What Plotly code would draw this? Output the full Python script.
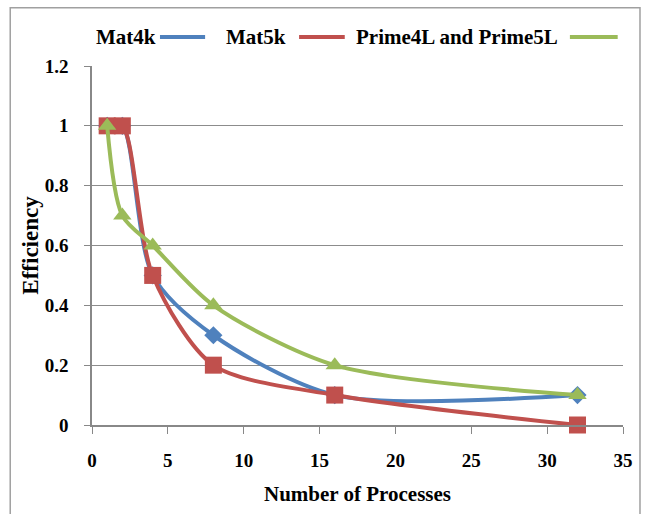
import plotly.graph_objects as go

# Processes vs. efficiency for the three workloads
processes = [1, 2, 4, 8, 16, 32]
mat4k = [1.0, 1.0, 0.5, 0.3, 0.1, 0.1]
mat5k = [1.0, 1.0, 0.5, 0.2, 0.1, 0.0]
prime = [1.0, 0.7, 0.6, 0.4, 0.2, 0.1]

series_names = ["Mat4k", "Mat5k", "Prime4L and Prime5L"]
colors = ["#4F81BD", "#C0504D", "#9BBB59"]
symbols = ["diamond", "square", "triangle-up"]
sizes = [14, 17, 16]

x_ticks = [0, 5, 10, 15, 20, 25, 30, 35]
y_ticks = [0, 0.2, 0.4, 0.6, 0.8, 1.0, 1.2]
y_tick_labels = ["0", "0.2", "0.4", "0.6", "0.8", "1", "1.2"]

FONT = "Liberation Serif"

fig = go.Figure()
for name, ys, c, sym, sz in zip(series_names, [mat4k, mat5k, prime], colors, symbols, sizes):
    fig.add_trace(go.Scatter(
        x=processes, y=ys, name=name, mode="lines+markers",
        line=dict(color=c, width=4, shape="spline", smoothing=0.8),
        marker=dict(symbol=sym, size=sz, color=c),
        cliponaxis=False, showlegend=False,
    ))

# Legend drawn as text followed by a line sample (paper coords)
legend_items = [(0.004, 0.128, 0.213), (0.248, 0.39, 0.476), (0.494, 0.9, 0.99)]
LEG_Y = 1.081
shapes = []
annotations = []
for (tx, l0, l1), name, c in zip(legend_items, series_names, colors):
    annotations.append(dict(
        x=tx, y=LEG_Y, xref="paper", yref="paper", text=f"<b>{name}</b>",
        showarrow=False, xanchor="left", yanchor="middle",
        font=dict(family=FONT, size=21, color="black"),
    ))
    shapes.append(dict(
        type="line", xref="paper", yref="paper",
        x0=l0, x1=l1, y0=LEG_Y, y1=LEG_Y,
        line=dict(color=c, width=4),
    ))

# Outer chart frame
shapes.append(dict(
    type="rect", xref="paper", yref="paper",
    x0=-0.154, x1=1.032, y0=-0.35, y1=1.162,
    line=dict(color="#A0A0A0", width=1.5),
))

tick_font = dict(family=FONT, size=19, color="black")

fig.update_layout(
    width=649, height=514,
    margin=dict(l=92, r=26, t=66, b=89),
    paper_bgcolor="white", plot_bgcolor="white",
    font=dict(family=FONT, size=14, color="black"),
    shapes=shapes, annotations=annotations,
    xaxis=dict(
        range=[0, 35], automargin=False,
        tickvals=x_ticks, ticktext=[f"<b>{v}</b>" for v in x_ticks],
        showgrid=False, zeroline=False,
        showline=True, linecolor="#888888", linewidth=1.5,
        ticks="outside", ticklen=7, tickcolor="#888888",
        tickfont=tick_font, ticklabelstandoff=10,
        title=dict(text="<b>Number of Processes</b>",
                   font=dict(family=FONT, size=21, color="black"), standoff=17),
    ),
    yaxis=dict(
        range=[0, 1.2], automargin=False,
        tickvals=y_ticks, ticktext=[f"<b>{t}</b>" for t in y_tick_labels],
        showgrid=True, gridcolor="#8C8C8C", gridwidth=1.2,
        zeroline=False,
        showline=True, linecolor="#888888", linewidth=1.5,
        ticks="outside", ticklen=6, tickcolor="#888888",
        tickfont=tick_font, ticklabelstandoff=12,
        title=dict(text="<b>Efficiency</b>",
                   font=dict(family=FONT, size=23, color="black"), standoff=0),
    ),
)

fig.write_html("out.html")
